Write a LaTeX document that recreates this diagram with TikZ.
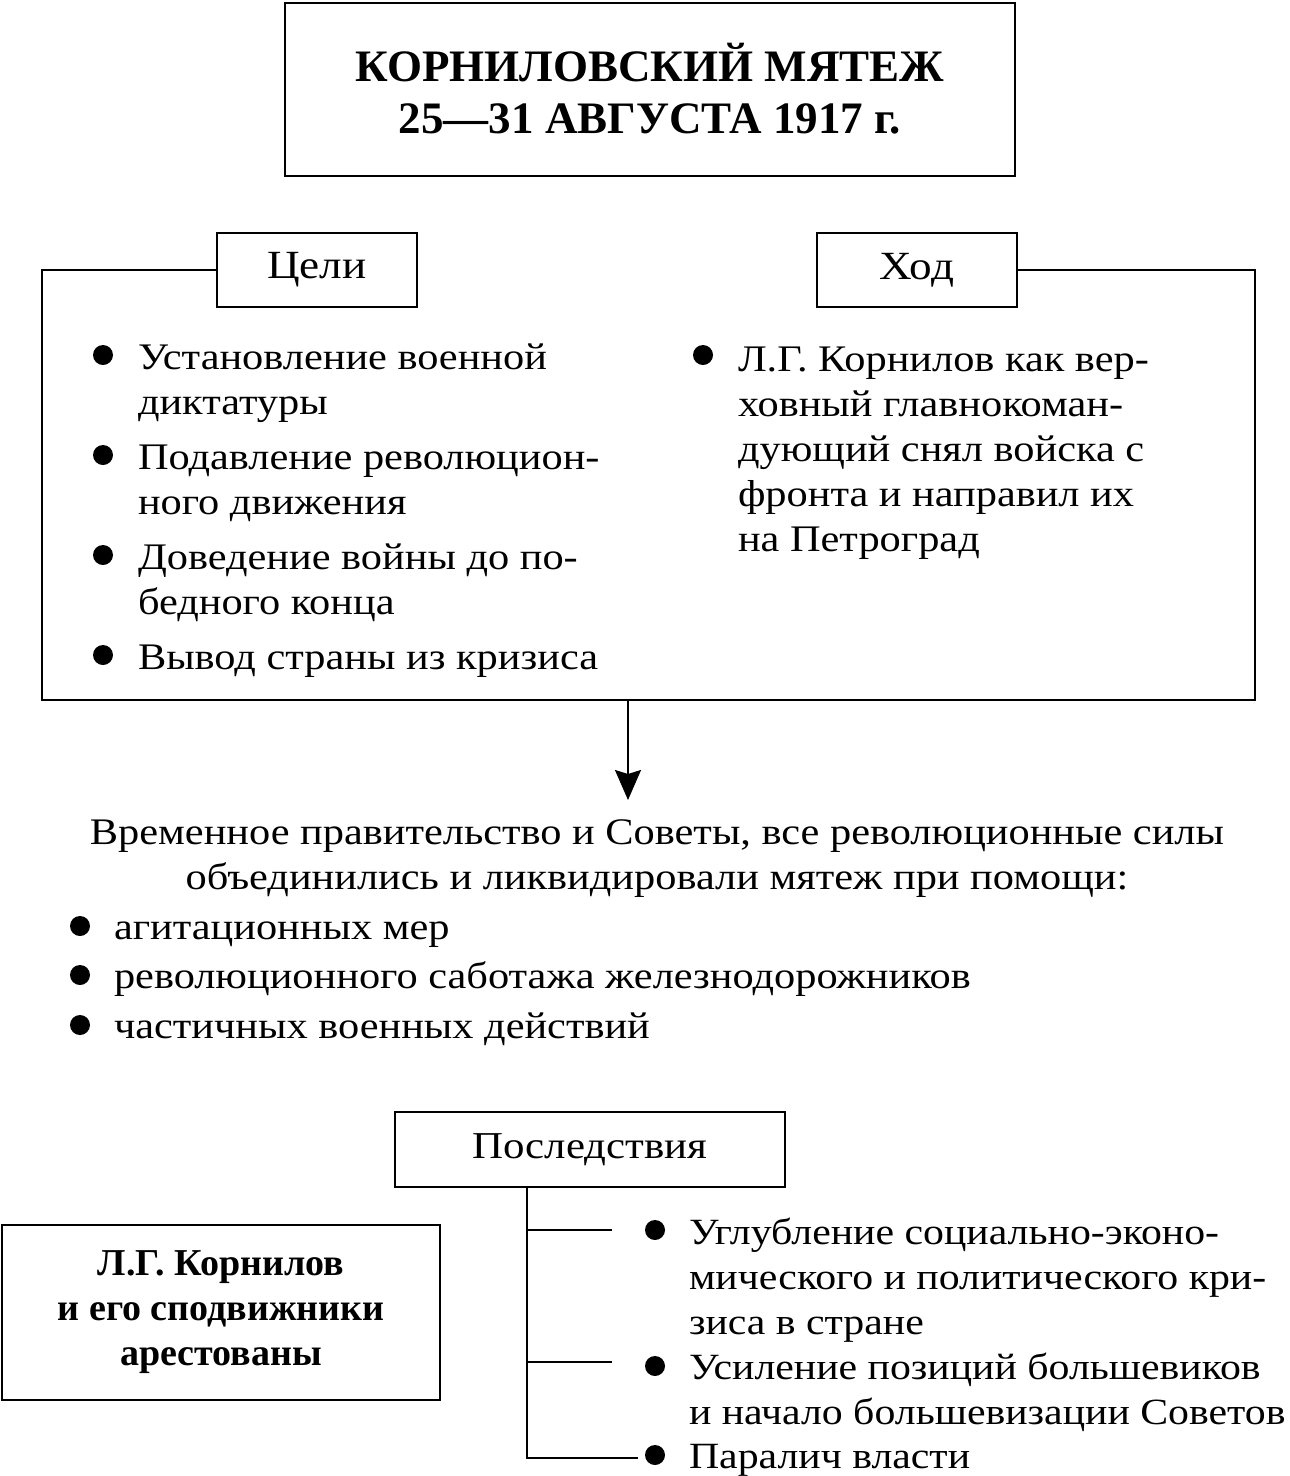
\documentclass[tikz,border=0pt]{standalone}
\usepackage{fontspec}
\setmainfont{Liberation Serif}
\newfontfamily\bodyfont{Liberation Serif}[FakeStretch=1.13]
\usetikzlibrary{arrows.meta, positioning}

\begin{document}
\begin{tikzpicture}[x=1pt, y=-1pt, line width=2pt]
\useasboundingbox (0,0) rectangle (1290,1476);

\begin{scope}[every node/.style={shape=rectangle,
    draw, align=center, line width=2pt}]
    \node[minimum width=730pt, minimum height=173pt,
          font=\fontsize{45}{52}\selectfont\bfseries] (title) at (650,89)
          {КОРНИЛОВСКИЙ МЯТЕЖ\\25---31 АВГУСТА 1917 г.};
    \node[minimum width=200pt, minimum height=74pt,
          font=\bodyfont\fontsize{40}{45}\selectfont] (goals) at (317,270) {Цели};
    \node[minimum width=200pt, minimum height=74pt,
          font=\bodyfont\fontsize{40}{45}\selectfont] (course) at (917,270) {Ход};
    \node[minimum width=390pt, minimum height=75pt,
          font=\bodyfont\fontsize{38}{45}\selectfont] (result) at (590,1149.5) {Последствия};
    \node[minimum width=438pt, minimum height=175pt,
          font=\fontsize{38}{45}\selectfont\bfseries] (arrested) at (221,1312.5)
          {Л.Г. Корнилов\\и его сподвижники\\арестованы};
\end{scope}

\begin{scope}[every node/.style={anchor=base west, align=left, inner sep=0pt,
    font=\bodyfont\fontsize{37.5}{45}\selectfont},
    dot/.style={circle, fill, draw=none, minimum size=20pt, anchor=center}]
    % goals
    \node (g1) at (137,414) {Установление военной\\диктатуры};
    \node (g2) at (137,514) {Подавление революцион-\\ного движения};
    \node (g3) at (137,614) {Доведение войны до по-\\бедного конца};
    \node (g4) at (137,669) {Вывод страны из кризиса};
    \foreach \y in {355,455,555,655} \node[dot] at (103,\y) {};
    % course
    \node (h1) at (737,551) {Л.Г. Корнилов как вер-\\ховный главнокоман-\\дующий снял войска с\\фронта и направил их\\на Петроград};
    \node[dot] at (703,355) {};
    % suppression
    \node[anchor=base, align=center] (m) at (657,889)
        {Временное правительство и Советы, все революционные силы\\объединились и ликвидировали мятеж при помощи:};
    \node (p1) at (113,939) {агитационных мер};
    \node (p2) at (113,988) {революционного саботажа железнодорожников};
    \node (p3) at (113,1038) {частичных военных действий};
    \foreach \y in {926,975,1025} \node[dot] at (80,\y) {};
    % results
    \begin{scope}[every node/.append style={font=\bodyfont\fontsize{37}{45}\selectfont}]
    \node (r1) at (688,1334) {Углубление социально-эконо-\\мического и политического кри-\\зиса в стране};
    \node (r2) at (688,1424) {Усиление позиций большевиков\\и начало большевизации Советов};
    \node (r3) at (688,1468) {Паралич власти};
    \end{scope}
    \foreach \y in {1230,1366,1455} \node[dot] at (655,\y) {};
\end{scope}

\begin{scope}[line/.style={draw, line width=2pt},
    arr/.style={-{Stealth[length=30pt, width=26pt, inset=4pt]}}]
    \coordinate (lt) at (42,700);
    \coordinate (rt) at (1255,700);
    \coordinate (split) at (628,700);
    \coordinate (tip) at (628,800);
    \coordinate (trunk) at (527,1458);
    \coordinate (c1) at (612,1230);
    \coordinate (c2) at (612,1362);
    \coordinate (c3) at (638,1458);
    \path[line] (goals.west) -| (lt) -- (rt) |- (course.east);
    \path[line, arr] (split) -- (tip);
    \path[line] (result.south -| trunk) -- (trunk) -- (c3);
    \path[line] (c1 -| trunk) -- (c1);
    \path[line] (c2 -| trunk) -- (c2);
\end{scope}
\end{tikzpicture}
\end{document}
